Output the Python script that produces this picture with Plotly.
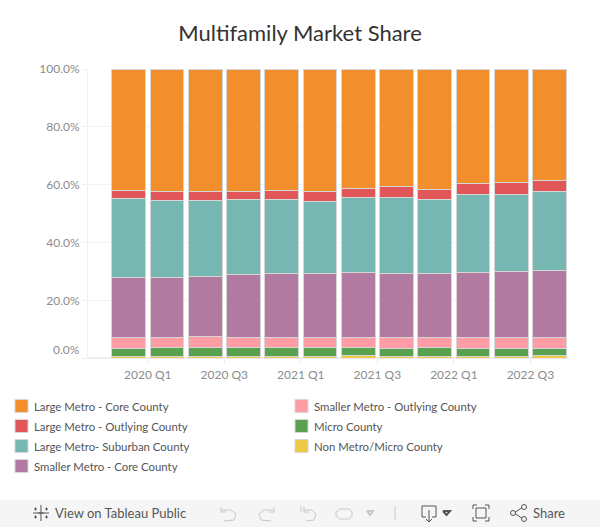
import plotly.graph_objects as go

WIDTH = 600
HEIGHT = 527

quarters = ["2020 Q1", "2020 Q2", "2020 Q3", "2020 Q4", "2021 Q1", "2021 Q2",
            "2021 Q3", "2021 Q4", "2022 Q1", "2022 Q2", "2022 Q3", "2022 Q4"]

non_metro = [0.6, 0.6, 0.6, 0.6, 0.6, 0.6, 1.0, 0.6, 0.6, 0.6, 0.6, 1.0]
micro = [2.8, 3.1, 3.1, 3.1, 3.1, 3.1, 2.7, 2.8, 3.1, 2.8, 2.8, 2.3]
smaller_outlying = [3.9, 3.6, 3.9, 3.6, 3.6, 3.6, 3.6, 3.9, 3.6, 3.9, 3.9, 3.9]
smaller_core = [20.8, 20.8, 20.8, 21.5, 22.1, 22.1, 22.5, 22.1, 22.1, 22.5, 22.8, 23.2]
large_suburban = [27.0, 26.3, 26.0, 26.0, 25.6, 24.9, 25.8, 26.2, 25.6, 26.9, 26.5, 27.2]
large_outlying = [3.0, 3.3, 3.3, 3.0, 3.0, 3.3, 3.2, 3.9, 3.3, 3.8, 4.2, 3.8]
large_core = [41.9, 42.3, 42.3, 42.2, 42.0, 42.3, 41.2, 40.5, 41.6, 39.5, 39.2, 38.6]

# bottom of the stack first
series = [
    ("Non Metro/Micro County", non_metro, "#EDC948"),
    ("Micro County", micro, "#59A14F"),
    ("Smaller Metro - Outlying County", smaller_outlying, "#FF9DA7"),
    ("Smaller Metro - Core County", smaller_core, "#B07AA1"),
    ("Large Metro- Suburban County", large_suburban, "#76B7B2"),
    ("Large Metro - Outlying County", large_outlying, "#E15759"),
    ("Large Metro - Core County", large_core, "#F28E2B"),
]

y_ticks = [0, 20, 40, 60, 80, 100]
x_tick_labels = ["2020 Q1", "2020 Q3", "2021 Q1", "2021 Q3", "2022 Q1", "2022 Q3"]

legend_col1 = ["Large Metro - Core County", "Large Metro - Outlying County",
               "Large Metro- Suburban County", "Smaller Metro - Core County"]
legend_col2 = ["Smaller Metro - Outlying County", "Micro County", "Non Metro/Micro County"]

FONT = "Lato"
positions = list(range(len(quarters)))
colors = {name: color for name, _, color in series}


def px(x):
    return x / WIDTH


def py(y):
    return 1 - y / HEIGHT


def icon(d, color="#8a8a8a", width=1.0):
    # d is a list of polylines given in screen pixels
    path = ""
    for line in d:
        path += "M" + " L".join(f"{px(x):.5f},{py(y):.5f}" for x, y in line) + " "
    return dict(type="path", xref="paper", yref="paper", path=path,
                line=dict(color=color, width=width))


def label(x, y, text, size=11.4, color="#555555", anchor="left", family=FONT):
    return dict(xref="paper", yref="paper", x=px(x), y=py(y), text=text, showarrow=False,
                xanchor=anchor, yanchor="middle", align=anchor,
                font=dict(family=family, size=size, color=color))


fig = go.Figure()
for name, values, color in series:
    fig.add_trace(go.Bar(x=positions, y=values, name=name, width=0.885,
                         marker=dict(color=color, line=dict(color="#d6d6d6", width=1))))

shapes = []
annotations = []

# legend, filled column by column
for col_x, names in [(15, legend_col1), (295, legend_col2)]:
    for row, name in enumerate(names):
        row_y = 406 + row * 20
        shapes.append(dict(type="rect", xref="paper", yref="paper",
                           x0=px(col_x), x1=px(col_x + 13), y0=py(row_y - 6.5), y1=py(row_y + 6.5),
                           fillcolor=colors[name], line=dict(color="#d6d6d6", width=1)))
        annotations.append(label(col_x + 17, row_y, name))

# 0.0% sits above the baseline in the reference
annotations.append(label(82, 349.5, "0.0%", size=12, color="#8c8c8c", anchor="right"))

# toolbar
shapes.append(dict(type="rect", xref="paper", yref="paper", x0=0, x1=1, y0=0, y1=py(500),
                   fillcolor="#f5f5f5", line=dict(width=0), layer="below"))
annotations.append(label(53, 513, "View on Tableau Public", size=13, color="#555555"))
annotations.append(label(531, 513, "Share", size=13, color="#555555"))

# tableau mark
shapes.append(icon([[(41, 505), (41, 521)], [(33, 513), (49, 513)],
                    [(35.5, 507.5), (35.5, 510.5)], [(34, 509), (37, 509)],
                    [(46.5, 507.5), (46.5, 510.5)], [(45, 509), (48, 509)],
                    [(35.5, 515.5), (35.5, 518.5)], [(34, 517), (37, 517)],
                    [(46.5, 515.5), (46.5, 518.5)], [(45, 517), (48, 517)],
                    [(38, 513), (44, 513)]], color="#555555"))
# undo, redo, revert, replay
grey = "#c8c8c8"
shapes.append(icon([[(221, 507), (221, 512), (226, 512)],
                    [(221, 510), (231, 510), (236, 514), (234, 520), (224, 521)]], color=grey))
shapes.append(icon([[(274, 507), (274, 512), (269, 512)],
                    [(274, 510), (264, 510), (259, 514), (261, 520), (271, 521)]], color=grey))
shapes.append(icon([[(301, 506), (301, 512)],
                    [(304, 507), (304, 512), (309, 512)],
                    [(304, 510), (312, 510), (316, 514), (314, 520), (306, 521)]], color=grey))
shapes.append(icon([[(340, 509), (349, 509), (352, 512), (352, 516), (349, 519), (340, 519),
                     (336, 516), (336, 512), (340, 509)]], color=grey))
shapes.append(icon([[(367, 511), (373, 511), (370, 515), (367, 511)]], color=grey, width=2))
shapes.append(icon([[(395, 506), (395, 520)]], color=grey))
# download
shapes.append(icon([[(426, 517), (422, 517), (422, 506), (436, 506), (436, 517), (432, 517)],
                    [(429, 510), (429, 522)], [(426, 519), (429, 522), (432, 519)]], color="#555555"))
shapes.append(icon([[(443, 511), (450, 511), (446.5, 515), (443, 511)]], color="#555555", width=2))
# fullscreen
shapes.append(icon([[(473, 509), (473, 505), (477, 505)], [(485, 505), (489, 505), (489, 509)],
                    [(489, 517), (489, 521), (485, 521)], [(477, 521), (473, 521), (473, 517)],
                    [(476, 508), (486, 508), (486, 518), (476, 518), (476, 508)]], color="#555555"))
# share
shapes.append(icon([[(514, 513), (523, 507)], [(514, 513), (523, 519)]], color="#555555"))
for cx, cy in [(513, 513), (524, 507), (524, 519)]:
    shapes.append(dict(type="circle", xref="paper", yref="paper",
                       x0=px(cx - 2.5), x1=px(cx + 2.5), y0=py(cy + 2.5), y1=py(cy - 2.5),
                       fillcolor="#f5f5f5", line=dict(color="#555555", width=1)))

fig.update_layout(
    width=WIDTH,
    height=HEIGHT,
    barmode="stack",
    showlegend=False,
    paper_bgcolor="white",
    plot_bgcolor="white",
    margin=dict(l=0, r=0, t=0, b=0),
    title=dict(text="Multifamily Market Share", x=0.5, xanchor="center", y=py(33), yanchor="middle",
               font=dict(family=FONT, size=22, color="#333333")),
    shapes=shapes,
    annotations=annotations,
    xaxis=dict(
        domain=[px(88), px(569)],
        range=[-1.064, 11.51],
        tickmode="array",
        # tick labels sit on the boundary between two quarters
        tickvals=[positions[quarters.index(q)] + 0.5 for q in x_tick_labels],
        ticktext=x_tick_labels,
        ticks="outside",
        ticklen=5,
        tickcolor="#eeeeee",
        showgrid=False,
        zeroline=False,
        showline=False,
        automargin=False,
        tickfont=dict(family=FONT, size=12, color="#8c8c8c"),
    ),
    yaxis=dict(
        domain=[py(358.3), py(69)],
        range=[0, 100],
        tickmode="array",
        tickvals=y_ticks,
        ticktext=["" if t == 0 else f"{t:.1f}%" for t in y_ticks],
        ticks="outside",
        ticklen=5,
        tickcolor="#f0f0f0",
        showgrid=True,
        gridcolor="#f3f3f3",
        gridwidth=1,
        zeroline=True,
        zerolinecolor="#eeeeee",
        showline=True,
        linecolor="#f0f0f0",
        automargin=False,
        tickfont=dict(family=FONT, size=12, color="#8c8c8c"),
    ),
)

# page body has a default margin that would push the figure off the window
fig.write_html("out.html", config={"displayModeBar": False},
               post_script="document.body.style.margin='0';document.body.style.overflow='hidden';")
